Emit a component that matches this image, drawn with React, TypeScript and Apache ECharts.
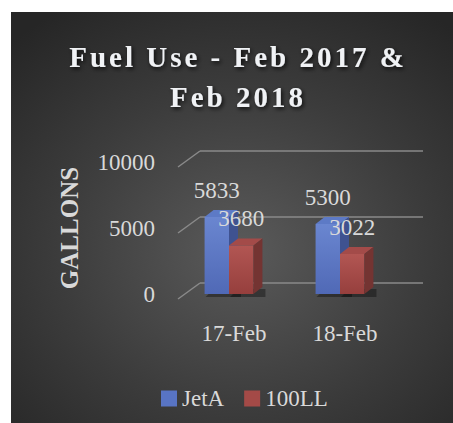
import React, { useEffect, useRef } from "react";
import * as echarts from "echarts";

const categories = ["17-Feb", "18-Feb"];
const jetA = [5833, 5300];
const ll100 = [3680, 3022];
const yTicks = [0, 5000, 10000];
const seriesNames = ["JetA", "100LL"];
const titleText = "Fuel Use - Feb 2017 &\nFeb 2018";
const yName = "GALLONS";

const FONT = '"Liberation Serif", "Times New Roman", serif';
const LABEL = "#d9d9d9";
const GRIDC = "#8a8a8a";

const palettes = [
  { front: ["#6a86d0", "#5069b6"], top: "#5d7ac6", side: "#3f5290", legend: "#5874c4" },
  { front: ["#b25653", "#963f3d"], top: "#a34b49", side: "#743432", legend: "#a44a47" },
];

const DX = 9;
const DY = -7;

function makeBarRender(si: number) {
  return (params: any, api: any) => {
    const ci = api.value(0);
    const v = api.value(1);
    const base = api.coord([ci, 0]);
    const top = api.coord([ci, v]);
    const band = api.size([1, 0])[0];
    const w = band * 0.22;
    const x0 = base[0] - w + si * w;
    const yb = base[1];
    const yt = top[1];
    const p = palettes[si];
    return {
      type: "group",
      children: [
        {
          type: "polygon",
          shape: {
            points: [
              [x0 + 1, yb + 3],
              [x0 + w + DX + 3, yb + 3],
              [x0 + w + DX + 3, yb + DY + 2],
              [x0 + DX, yb + DY + 2],
            ],
          },
          style: { fill: "rgba(0,0,0,0.35)" },
        },
        {
          type: "rect",
          shape: { x: x0, y: yt, width: w, height: yb - yt },
          style: {
            fill: new echarts.graphic.LinearGradient(0, 0, 0, 1, [
              { offset: 0, color: p.front[0] },
              { offset: 1, color: p.front[1] },
            ]),
          },
        },
        {
          type: "polygon",
          shape: {
            points: [
              [x0, yt],
              [x0 + DX, yt + DY],
              [x0 + w + DX, yt + DY],
              [x0 + w, yt],
            ],
          },
          style: { fill: p.top },
        },
        {
          type: "polygon",
          shape: {
            points: [
              [x0 + w, yt],
              [x0 + w + DX, yt + DY],
              [x0 + w + DX, yb + DY],
              [x0 + w, yb],
            ],
          },
          style: { fill: p.side },
        },
        {
          type: "text",
          x: x0 + w / 2,
          y: yt - 27,
          style: {
            text: String(v),
            fill: LABEL,
            fontSize: 23,
            fontFamily: FONT,
            align: "center",
            verticalAlign: "middle",
            textAlign: "center",
            textVerticalAlign: "middle",
          },
        },
      ],
    };
  };
}

function gridRender(params: any, api: any) {
  const cs = params.coordSys;
  const y = api.coord([0, api.value(1)])[1];
  const gx = cs.x;
  const gr = cs.x + cs.width;
  const st = { stroke: GRIDC, lineWidth: 1.4 };
  return {
    type: "group",
    children: [
      { type: "line", shape: { x1: gx + 4.5, y1: y + 5, x2: gx + 26.5, y2: y - 11 }, style: st },
      { type: "line", shape: { x1: gx + 26.5, y1: y - 11, x2: gr + 27.5, y2: y - 11 }, style: st },
    ],
  };
}

export default function App() {
  const ref = useRef<HTMLDivElement>(null);
  useEffect(() => {
    if (!ref.current) return;
    const chart = echarts.init(ref.current, undefined, { renderer: "svg" });
    const values = [jetA, ll100];
    chart.setOption({
      animation: false,
      title: {
        text: titleText,
        left: 222,
        textAlign: "center",
        top: 20,
        padding: 5,
        textStyle: {
          fontSize: 29,
          fontWeight: "bold",
          fontFamily: FONT,
          color: "#f0f2f5",
          lineHeight: 40,
          textShadowColor: "rgba(0,0,0,0.8)",
          textShadowBlur: 4,
          textShadowOffsetX: 1.5,
          textShadowOffsetY: 2,
        },
      },
      legend: {
        data: seriesNames,
        left: 145,
        top: 370,
        icon: "rect",
        itemWidth: 16,
        itemHeight: 16,
        itemGap: 20,
        textStyle: { color: LABEL, fontSize: 23, fontFamily: FONT },
      },
      grid: { left: 162.5, right: 57.5, top: 150, bottom: 129 },
      xAxis: {
        type: "category",
        data: categories,
        axisLine: { show: false },
        axisTick: { show: false },
        axisLabel: {
          color: LABEL,
          fontSize: 23,
          fontFamily: FONT,
          margin: 27.5,
          padding: [0, 0, 0, 10],
        },
      },
      yAxis: {
        type: "value",
        min: 0,
        max: 10000,
        interval: 5000,
        splitLine: { show: false },
        axisLine: { show: false },
        axisTick: { show: false },
        axisLabel: {
          color: LABEL,
          fontSize: 23,
          fontFamily: FONT,
          margin: 18.5,
          padding: [14, 0, 0, 0],
          formatter: (v: number) => String(v),
        },
        name: yName,
        nameLocation: "middle",
        nameGap: 92,
        nameTextStyle: {
          color: LABEL,
          fontSize: 25,
          fontWeight: "bold",
          fontFamily: FONT,
        },
      },
      series: [
        {
          type: "custom",
          name: "grid",
          silent: true,
          clip: false,
          z: 1,
          renderItem: gridRender,
          data: yTicks.map((v) => [0, v]),
          encode: { x: 0, y: 1 },
        },
        ...seriesNames.map((name, si) => ({
          type: "custom",
          name,
          clip: false,
          z: 2 + si,
          itemStyle: { color: palettes[si].legend },
          renderItem: makeBarRender(si),
          data: values[si].map((v, i) => [i, v]),
          encode: { x: 0, y: 1 },
        })),
      ],
    });
    return () => chart.dispose();
  }, []);

  return (
    <div style={{ position: "absolute", left: 0, top: 0, width: 453, height: 423, background: "#ffffff" }}>
      <style>{'.fuelchart text[style*="29px"]{letter-spacing:3px;}'}</style>
      <div
        ref={ref}
        className="fuelchart"
        style={{
          position: "absolute",
          left: 11,
          top: 12,
          width: 442,
          height: 411,
          background: "radial-gradient(ellipse 75% 70% at 52% 58%, #5a5a5a 0%, #3c3c3c 55%, #262626 100%)",
        }}
      />
    </div>
  );
}
